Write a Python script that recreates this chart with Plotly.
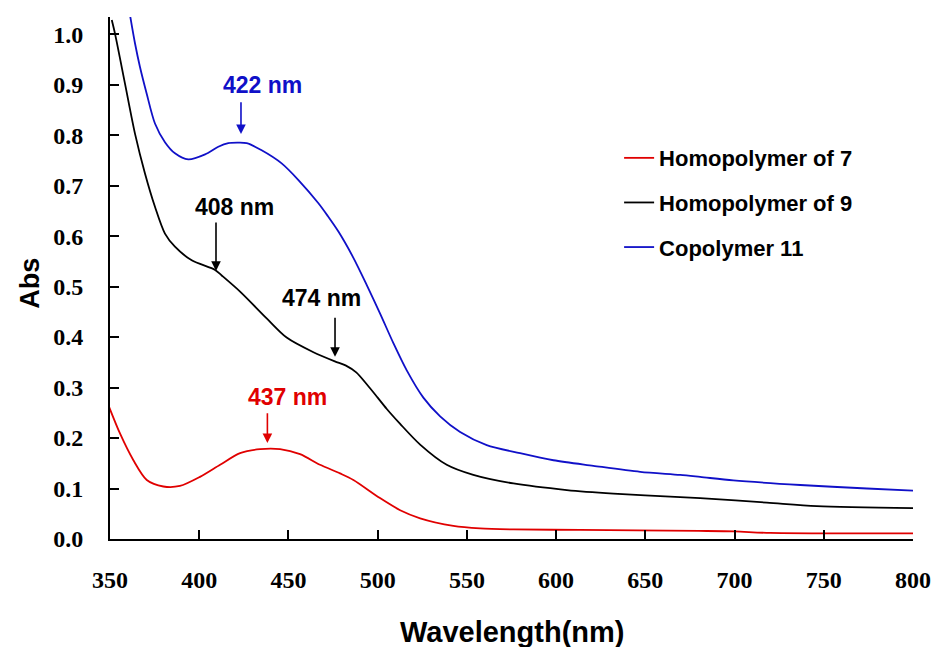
import plotly.graph_objects as go

# ---- data ----
wl_blue = [361.2, 364.0, 366.8, 370.5, 375.2, 380.8, 386.4, 393.9, 403.3, 410.7, 416.3, 422.0, 426.6,
           435.0, 446.2, 455.6, 466.8, 472.0, 478.0, 486.4, 493.9, 501.3, 508.8, 516.3, 525.6, 535.0,
           546.2, 561.1, 579.8, 598.5, 620.9, 647.1, 669.5, 680.7, 699.3, 736.8, 774.2, 800.0]
abs_blue = [1.038, 0.982, 0.935, 0.883, 0.823, 0.786, 0.764, 0.752, 0.762, 0.777, 0.784, 0.785, 0.784,
            0.770, 0.744, 0.711, 0.665, 0.640, 0.609, 0.557, 0.503, 0.447, 0.388, 0.334, 0.280, 0.243,
            0.212, 0.186, 0.170, 0.156, 0.145, 0.133, 0.127, 0.123, 0.116, 0.107, 0.100, 0.096]

wl_black = [351.0, 352.8, 358.4, 364.0, 369.6, 375.2, 380.8, 386.4, 395.8, 408.9, 412.6, 422.9, 437.8,
            449.0, 464.0, 476.0, 482.0, 488.0, 494.0, 500.0, 505.0, 512.6, 523.8, 538.7, 553.6, 576.1,
            606.0, 632.1, 669.5, 680.7, 718.1, 746.1, 800.0]
abs_black = [1.028, 1.001, 0.902, 0.803, 0.724, 0.658, 0.605, 0.579, 0.552, 0.533, 0.522, 0.490, 0.437,
             0.399, 0.370, 0.352, 0.344, 0.330, 0.306, 0.280, 0.258, 0.228, 0.187, 0.147, 0.127, 0.110,
             0.097, 0.090, 0.083, 0.081, 0.072, 0.065, 0.061]

wl_red = [348.0, 355.6, 363.1, 370.6, 379.9, 389.2, 400.4, 411.7, 422.9, 434.1, 445.3, 456.5, 467.7,
          478.9, 486.4, 501.3, 512.6, 523.8, 542.4, 557.4, 576.1, 613.5, 680.0, 700.0, 720.0, 800.0]
abs_red = [0.275, 0.209, 0.156, 0.117, 0.104, 0.105, 0.123, 0.147, 0.170, 0.178, 0.178, 0.168, 0.147,
           0.130, 0.117, 0.081, 0.057, 0.041, 0.026, 0.021, 0.019, 0.018, 0.016, 0.015, 0.012, 0.011]

series_names = ["Homopolymer of 7", "Homopolymer of 9", "Copolymer 11"]
series_colors = ["#e00000", "#000000", "#1010c8"]

x_ticks = [350, 400, 450, 500, 550, 600, 650, 700, 750, 800]
y_ticks = [0.0, 0.1, 0.2, 0.3, 0.4, 0.5, 0.6, 0.7, 0.8, 0.9, 1.0]

x_title = "Wavelength(nm)"
y_title = "Abs"

# peak labels: text, text position, arrow x, arrow tail y, arrow head y, colour index
peak_texts = ["422 nm", "408 nm", "474 nm", "437 nm"]
peak_text_x = [435.2, 420.0, 468.7, 449.4]
peak_text_y = [0.899, 0.658, 0.477, 0.282]
peak_arrow_x = [423.4, 409.4, 476.1, 438.2]
peak_arrow_tail = [0.868, 0.630, 0.441, 0.252]
peak_arrow_head = [0.802, 0.531, 0.361, 0.190]
peak_color_idx = [2, 1, 1, 0]

fig = go.Figure()
xs = [wl_red, wl_black, wl_blue]
ys = [abs_red, abs_black, abs_blue]
for i in range(3):
    fig.add_trace(go.Scatter(x=xs[i], y=ys[i], mode="lines", name=series_names[i],
                             legendgroup=f"g{i}",
                             line=dict(color=series_colors[i], width=1.8, shape="spline",
                                       smoothing=0.8)))

for t, tx, ty, axx, yt, yh, ci in zip(peak_texts, peak_text_x, peak_text_y, peak_arrow_x,
                                        peak_arrow_tail, peak_arrow_head, peak_color_idx):
    c = series_colors[ci]
    fig.add_annotation(x=tx, y=ty, text=t, showarrow=False, xref="x", yref="y",
                       font=dict(family="Liberation Sans", size=23, color=c, weight="bold"))
    fig.add_annotation(x=axx, y=yh, ax=axx, ay=yt, axref="x", ayref="y", xref="x", yref="y",
                       text="", showarrow=True, arrowhead=2, arrowsize=1.2, arrowwidth=1.6,
                       arrowcolor=c)

# axis titles (paper coordinates)
fig.add_annotation(x=0.5, y=-0.178, xref="paper", yref="paper", text=x_title, showarrow=False,
                   xanchor="center", yanchor="middle",
                   font=dict(family="Liberation Sans", size=29, color="black", weight="bold"))
fig.add_annotation(x=-0.099, y=0.49, xref="paper", yref="paper", text=y_title, showarrow=False,
                   textangle=-90, xanchor="center", yanchor="middle",
                   font=dict(family="Liberation Sans", size=27, color="black", weight="bold"))

fig.update_layout(
    width=933, height=647,
    margin=dict(l=110, r=20, t=17, b=108, autoexpand=False),
    paper_bgcolor="white", plot_bgcolor="white",
    showlegend=True,
    legend=dict(x=0.634, y=0.77, xanchor="left", yanchor="top",
                font=dict(family="Liberation Sans", size=22, color="black", weight="bold"),
                tracegroupgap=13, bgcolor="rgba(0,0,0,0)"),
    xaxis=dict(range=[350, 800], tickvals=x_ticks, ticks="inside", ticklen=9, tickwidth=1.6,
               tickcolor="black", showline=True, linecolor="black", linewidth=2,
               showgrid=False, zeroline=False, ticklabelstandoff=18, automargin=False,
               tickfont=dict(family="Liberation Serif", size=24, color="black", weight="bold")),
    yaxis=dict(range=[0, 1.034], tickvals=y_ticks, tickformat=".1f", ticks="inside", ticklen=9,
               tickwidth=1.6, tickcolor="black", showline=True, linecolor="black", linewidth=2,
               showgrid=False, zeroline=False, ticklabelstandoff=20, automargin=False,
               tickfont=dict(family="Liberation Serif", size=24, color="black", weight="bold")),
)

fig.write_html("out.html")
